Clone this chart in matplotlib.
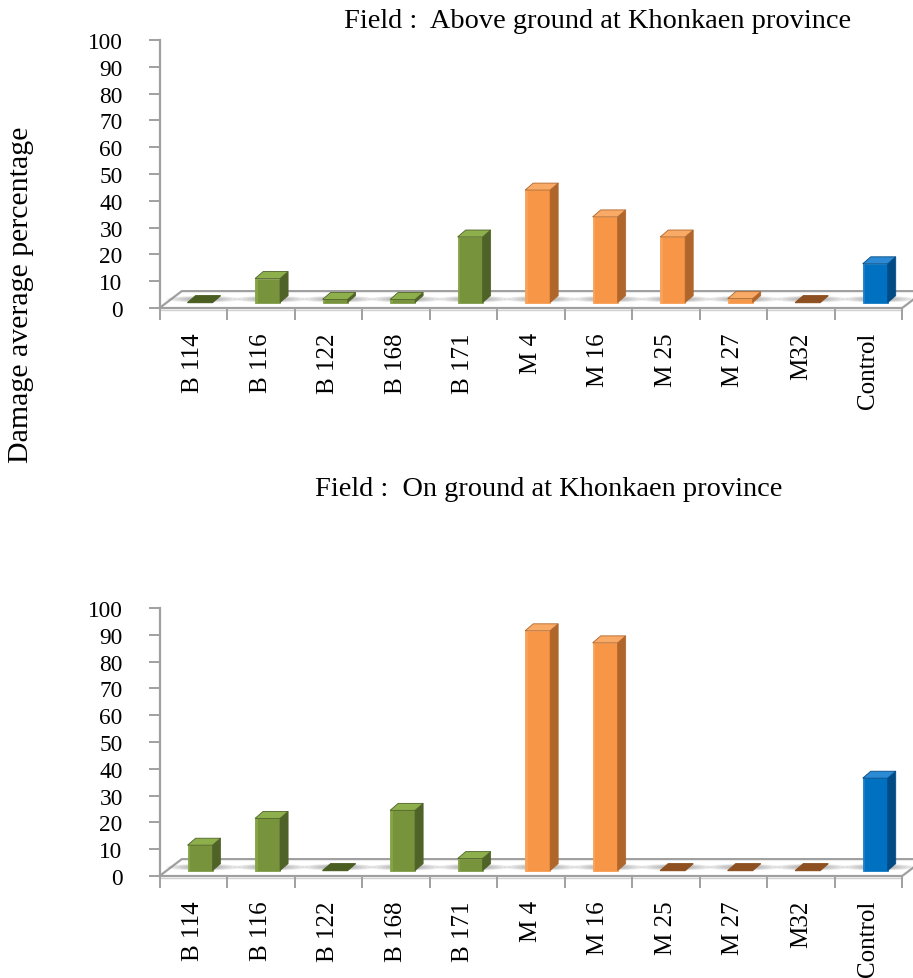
import matplotlib
matplotlib.use("Agg")
import matplotlib.pyplot as plt
from matplotlib.patches import Polygon, Ellipse

plt.rcParams['font.family'] = ['Liberation Serif', 'DejaVu Serif']

categories = ["B 114", "B 116", "B 122", "B 168", "B 171",
              "M 4", "M 16", "M 25", "M 27", "M32", "Control"]
above_ground = [0, 9, 1.2, 1.2, 24.5, 42, 32, 24.5, 1.5, 0, 14.5]
on_ground = [9.5, 19.5, 0, 22.5, 4.5, 89.5, 85, 0, 0, 0, 34.5]
groups = ["B", "B", "B", "B", "B", "M", "M", "M", "M", "M", "C"]
yticks = list(range(0, 101, 10))

# front, side, top, flat (zero height)
palette = {
    "B": ("#77933C", "#4F6228", "#8DAF4C", "#4A5E22"),
    "M": ("#F79646", "#B0652A", "#F9AA66", "#8E5020"),
    "C": ("#0070C0", "#004A85", "#2C8AD4", "#004A85"),
}

W = 0.37      # bar width
SX = 0.12     # depth offset in x
SY = 2.6      # depth offset in y
B0 = 2.0      # bar base above front floor edge
SHIFT = 0.1
FDX = 0.33    # floor depth
FDY = 6.3
GREY = "#A0A0A0"


def draw_floor(ax, n):
    floor = Polygon([(0, 0), (n, 0), (n + FDX, FDY), (FDX, FDY)], closed=True,
                    facecolor="white", edgecolor=GREY, lw=1.6, clip_on=False, zorder=1)
    ax.add_patch(floor)
    ax.plot([0, n], [-0.6, -0.6], color="#D0D0D0", lw=1.0, clip_on=False, zorder=1)


def draw_bar(ax, i, v, grp):
    front, side, top, flat = palette[grp]
    x0 = i + 0.5 - W / 2 + SHIFT
    x1 = x0 + W
    # soft shadow on the floor
    for k in range(6):
        ax.add_patch(Ellipse((x0 + W / 2 + 0.05, B0 + 1.3), 1.1 - k * 0.13, 2.4 - k * 0.25,
                             facecolor="#7A7A7A", edgecolor="none", alpha=0.11,
                             zorder=2, clip_on=False))
    y1 = B0 + v
    if v == 0:
        ax.add_patch(Polygon([(x0, B0), (x1, B0), (x1 + SX, B0 + SY), (x0 + SX, B0 + SY)],
                             closed=True, facecolor=flat, edgecolor=flat, lw=0.8,
                             zorder=3, clip_on=False))
        return
    ax.add_patch(Polygon([(x0, B0), (x1, B0), (x1, y1), (x0, y1)], closed=True,
                         facecolor=front, edgecolor=front, lw=0.5, zorder=3, clip_on=False))
    # highlight stripe on the front face
    ax.add_patch(Polygon([(x0, B0), (x0 + 0.04, B0), (x0 + 0.04, y1), (x0, y1)], closed=True,
                         facecolor=top, edgecolor="none", alpha=0.6, zorder=3, clip_on=False))
    ax.add_patch(Polygon([(x1, B0), (x1 + SX, B0 + SY), (x1 + SX, y1 + SY), (x1, y1)],
                         closed=True, facecolor=side, edgecolor=side, lw=0.5,
                         zorder=3, clip_on=False))
    ax.add_patch(Polygon([(x0, y1), (x1, y1), (x1 + SX, y1 + SY), (x0 + SX, y1 + SY)],
                         closed=True, facecolor=top, edgecolor=side, lw=0.6,
                         zorder=4, clip_on=False))


def make_chart(ax, values):
    n = len(values)
    ax.set_xlim(0, 11.16)
    ax.set_ylim(0, 100)
    draw_floor(ax, n)
    for i, v in enumerate(values):
        draw_bar(ax, i, v, groups[i])
    for s in ["top", "right", "bottom"]:
        ax.spines[s].set_visible(False)
    ax.spines["left"].set_color(GREY)
    ax.spines["left"].set_linewidth(1.6)
    ax.set_yticks(yticks)
    ax.tick_params(axis="y", length=8, width=1.4, color=GREY, pad=18.5, labelsize=16.8)
    ax.set_xticks(range(n + 1))
    ax.set_xticklabels([])
    ax.tick_params(axis="x", which="major", length=8.6, width=1.4, color=GREY)
    ax.set_xticks([i + 0.5 for i in range(n)], minor=True)
    ax.set_xticklabels(categories, minor=True, rotation=90, fontsize=18)
    ax.tick_params(axis="x", which="minor", length=0, pad=17.3)
    ax.patch.set_alpha(0)


fig = plt.figure(figsize=(9.13, 9.79), dpi=100)
ax1 = fig.add_axes([159.5 / 913, 670 / 979, 753.5 / 913, 268 / 979])
ax2 = fig.add_axes([159.5 / 913, 102 / 979, 753.5 / 913, 268 / 979])
make_chart(ax1, above_ground)
make_chart(ax2, on_ground)

fig.text(598 / 913, 1 - 22 / 979, "Field :  Above ground at Khonkaen province",
         ha="center", va="center", fontsize=20.4)
fig.text(549 / 913, 1 - 490 / 979, "Field :  On ground at Khonkaen province",
         ha="center", va="center", fontsize=20.4)
fig.text(21 / 913, 1 - 295 / 979, "Damage average percentage",
         rotation=90, ha="center", va="center", fontsize=21.5)

fig.savefig("out.png", dpi=100)
